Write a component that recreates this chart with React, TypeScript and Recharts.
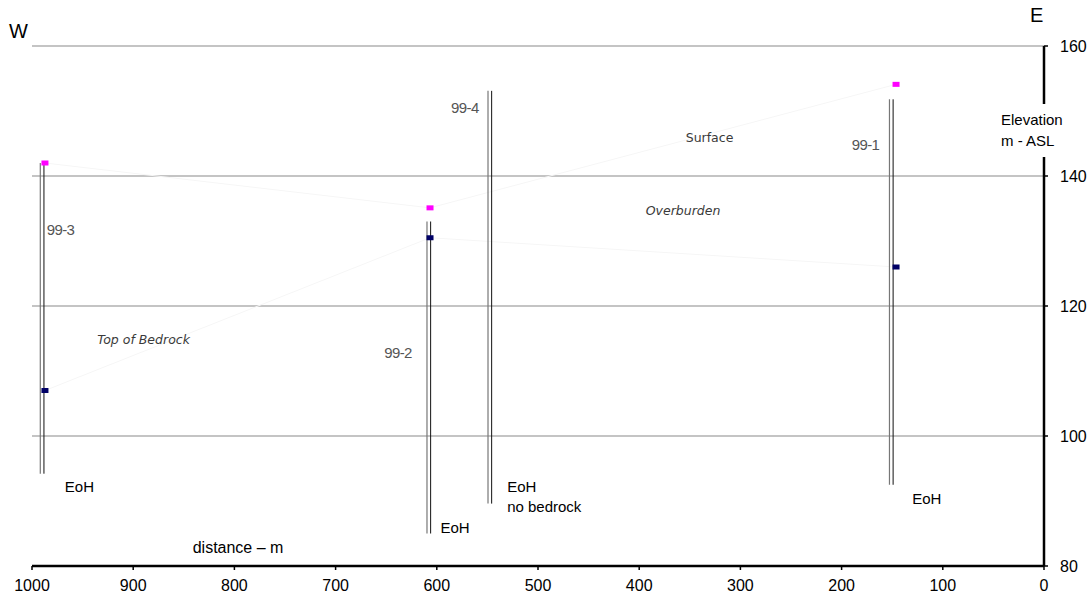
import React from 'react'
import { ComposedChart, XAxis, YAxis, CartesianGrid, Line, Scatter } from 'recharts'

// boreholes (distance in m, elevation in m ASL)
const wellNames = ['99-3', '99-2', '99-4', '99-1']
const wellDist = [990, 607.9, 547.6, 150.9]
const wellTop = [142.0, 133.0, 153.1, 151.8]
const wellBottom = [94.2, 85.0, 89.6, 92.5]

// picks along the section
const pickDist = [987.2, 606.7, 146.2]
const surfaceElev = [142.0, 135.1, 154.1]
const bedrockElev = [107.0, 130.5, 126.0]

const xTicks = [0, 100, 200, 300, 400, 500, 600, 700, 800, 900, 1000]
const yTicks = [80, 100, 120, 140, 160]

// text notes placed in data units
const noteText = ['99-3', 'Top of Bedrock', '99-2', '99-4', 'Surface', 'Overburden', '99-1', 'EoH', 'EoH', 'EoH', 'distance  –  m']
const noteDist = [971.8, 889.8, 638.3, 572.3, 330.5, 356.7, 176.4, 953.1, 582, 115.8, 796.4]
const noteElev = [131.7, 114.8, 112.8, 150.6, 146.0, 134.7, 144.9, 92.3, 85.9, 90.4, 82.8]
const noteKind = ['well', 'hand-i', 'well', 'well', 'hand', 'hand-i', 'well', 'plain', 'plain', 'plain', 'axis']

// "EoH / no bedrock" under 99-4 is left aligned
const leftNoteText = ['EoH', 'no  bedrock']
const leftNoteDist = [530.5, 530.5]
const leftNoteElev = [92.3, 89.1]

const W = 1087
const H = 594

const surfaceLine = pickDist.map((d, i) => ({ x: d, y: surfaceElev[i] }))
const bedrockLine = pickDist.map((d, i) => ({ x: d, y: bedrockElev[i] }))
const notes = noteText.map((t, i) => ({ x: noteDist[i], y: noteElev[i], t, k: noteKind[i] }))
const leftNotes = leftNoteText.map((t, i) => ({ x: leftNoteDist[i], y: leftNoteElev[i], t }))

const sans = '"Liberation Sans", Arial, sans-serif'

function PickBox(color: string) {
  return (p: any) => <rect x={p.cx - 3.5} y={p.cy - 2.5} width={7} height={5} fill={color} />
}

function NoteShape(p: any) {
  const k = p.payload.k
  const style: any = { fontFamily: sans, fontSize: 15, fill: '#000' }
  if (k === 'well') Object.assign(style, { fill: '#555', letterSpacing: -0.6 })
  if (k === 'hand' || k === 'hand-i') Object.assign(style, { fontFamily: '"DejaVu Sans", sans-serif', fontSize: 12.5, fill: '#3a3a3a' })
  if (k === 'hand-i') style.fontStyle = 'italic'
  if (k === 'axis') style.fontSize = 16
  return (
    <text x={p.cx} y={p.cy} textAnchor="middle" dominantBaseline="central" style={style}>
      {p.payload.t}
    </text>
  )
}

function LeftNoteShape(p: any) {
  return (
    <text x={p.cx} y={p.cy} textAnchor="start" dominantBaseline="central" style={{ fontFamily: sans, fontSize: 15, fill: '#000' }}>
      {p.payload.t}
    </text>
  )
}

export default function App() {
  return (
    <div style={{ position: 'absolute', left: 0, top: 0, width: W, height: H, background: '#fff' }}>
      <ComposedChart width={W} height={H} margin={{ top: 46, left: 32, right: 0, bottom: 0 }}>
        <CartesianGrid vertical={false} horizontal={{ stroke: '#c4c4c4', strokeWidth: 2.2 }} stroke="#c4c4c4" strokeWidth={2.2} />
        <XAxis
          dataKey="x"
          type="number"
          domain={[0, 1000]}
          reversed
          ticks={xTicks}
          interval={0}
          height={28}
          tickSize={4}
          tickMargin={10}
          axisLine={{ stroke: '#000', strokeWidth: 2.5 }}
          tickLine={{ stroke: '#000', strokeWidth: 1.5 }}
          tick={{ fill: '#000', fontSize: 16, fontFamily: sans }}
        />
        <YAxis
          dataKey="y"
          type="number"
          orientation="right"
          domain={[80, 160]}
          ticks={yTicks}
          interval={0}
          width={43}
          tickSize={4}
          tickMargin={12}
          axisLine={{ stroke: '#000', strokeWidth: 2.5 }}
          tickLine={{ stroke: '#000', strokeWidth: 1.5 }}
          tick={{ fill: '#000', fontSize: 16, fontFamily: sans }}
        />

        {/* faint interpreted horizons */}
        <Line data={surfaceLine} dataKey="y" stroke="#f6f6f6" strokeWidth={1} dot={false} isAnimationActive={false} />
        <Line data={bedrockLine} dataKey="y" stroke="#f6f6f6" strokeWidth={1} dot={false} isAnimationActive={false} />

        {/* boreholes drawn as double lines */}
        {wellNames.map((n, i) => (
          <Line
            key={n + 'a'}
            data={[{ x: wellDist[i] + 1.8, y: wellTop[i] }, { x: wellDist[i] + 1.8, y: wellBottom[i] }]}
            dataKey="y"
            stroke="#777"
            strokeWidth={1.2}
            dot={false}
            isAnimationActive={false}
          />
        ))}
        {wellNames.map((n, i) => (
          <Line
            key={n + 'b'}
            data={[{ x: wellDist[i] - 1.8, y: wellTop[i] }, { x: wellDist[i] - 1.8, y: wellBottom[i] }]}
            dataKey="y"
            stroke="#111"
            strokeWidth={1}
            dot={false}
            isAnimationActive={false}
          />
        ))}

        <Scatter data={surfaceLine} shape={PickBox('#ff00ff')} isAnimationActive={false} />
        <Scatter data={bedrockLine} shape={PickBox('#000066')} isAnimationActive={false} />

        <Scatter data={notes} shape={NoteShape} isAnimationActive={false} />
        <Scatter data={leftNotes} shape={LeftNoteShape} isAnimationActive={false} />
      </ComposedChart>

      <div style={{ position: 'absolute', left: 9, top: 21, fontFamily: sans, fontSize: 20, lineHeight: '20px', color: '#000' }}>W</div>
      <div style={{ position: 'absolute', left: 1030, top: 5, fontFamily: sans, fontSize: 20, lineHeight: '20px', color: '#000' }}>E</div>
      <div
        style={{
          position: 'absolute',
          left: 1001,
          top: 104,
          width: 72,
          height: 53,
          background: '#fff',
          fontFamily: sans,
          fontSize: 15,
          lineHeight: '21px',
          color: '#000',
          paddingTop: 5,
          boxSizing: 'border-box',
          whiteSpace: 'nowrap',
        }}
      >
        Elevation
        <br />m - ASL
      </div>
    </div>
  )
}
